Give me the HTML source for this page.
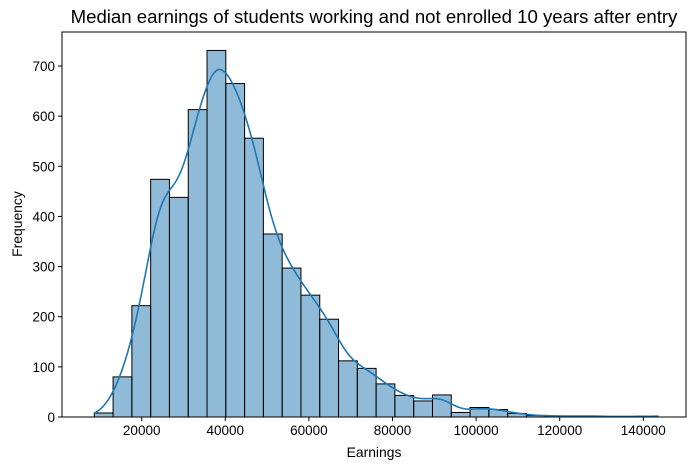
<!DOCTYPE html>
<html><head><meta charset="utf-8"><style>
body{margin:0;background:#fff;}
svg{font-family:"Liberation Sans","DejaVu Sans",sans-serif;}
</style></head><body>
<svg id="c" width="695" height="470"></svg>
<script>
const counts=[8,80,222,474,438,613,731,665,556,365,297,243,195,112,97,66,43,32,44,9,19,15,7,3,2,2,2,1,1,2];
const xMin=8660, xMax=143500;
const xTicks=[20000,40000,60000,80000,100000,120000,140000];
const yTicks=[0,100,200,300,400,500,600,700];
const L=62,R=686,T=32,B=417;
const xs=v=>141.7+(v-20000)*(643.3-141.7)/120000;
const ys=v=>B-v*(B-66)/700;
const svg=document.getElementById('c');
const NS='http://www.w3.org/2000/svg';
function mk(t,a,p){const e=document.createElementNS(NS,t);for(const k in a)e.setAttribute(k,a[k]);(p||svg).appendChild(e);return e;}
const bw=(xMax-xMin)/counts.length;
const g=mk('g',{});


counts.forEach((c,i)=>{
 const x0=xs(xMin+i*bw),x1=xs(xMin+(i+1)*bw);
 const r=mk('rect',{x:x0,y:ys(c),width:x1-x0,height:B-ys(c),fill:'rgba(31,119,180,0.5)',stroke:'#000','stroke-width':1},g);
 
 
});
const sig=0.68*bw;let pts=[];
for(let k=0;k<=240;k++){const x=xMin+(xMax-xMin)*k/240;
 const norm=1/(sig*Math.sqrt(2*Math.PI))*bw;
 let v=0;counts.forEach((c,i)=>{const cx=xMin+(i+0.5)*bw;v+=c*Math.exp(-0.5*((x-cx)/sig)**2);});
 pts.push(xs(x).toFixed(1)+','+ys(v*norm).toFixed(1));}
const kde=mk('polyline',{points:pts.join(' '),fill:'none',stroke:'#1f77b4','stroke-width':1.6});


const fr=mk('rect',{x:L,y:T,width:R-L,height:B-T,fill:'none',stroke:'#000','stroke-width':1});


xTicks.forEach(v=>{const x=xs(v);mk('line',{x1:x,x2:x,y1:B,y2:B+4,stroke:'#000'});
 const t=mk('text',{x:x,y:B+18,'text-anchor':'middle','font-size':13.5});t.textContent=v;
 
 });
yTicks.forEach(v=>{const y=ys(v);mk('line',{x1:L-4,x2:L,y1:y,y2:y,stroke:'#000'});
 const t=mk('text',{x:L-7,y:y+5,'text-anchor':'end','font-size':13.5});t.textContent=v;
 
 });
</script>
<div style="position:absolute;left:0;top:0;width:695px;height:470px;pointer-events:none;font-family:'Liberation Sans',sans-serif;">
<div style="position:absolute;left:0px;width:748px;top:6px;text-align:center;font-size:18.6px;white-space:nowrap;">Median earnings of students working and not enrolled 10 years after entry</div>
<div style="position:absolute;left:62px;width:624px;top:444px;text-align:center;font-size:13.9px;">Earnings</div>
<div style="position:absolute;left:-25px;top:216px;width:84px;text-align:center;font-size:13.9px;transform:rotate(-90deg);">Frequency</div>
</div>
</body></html>
